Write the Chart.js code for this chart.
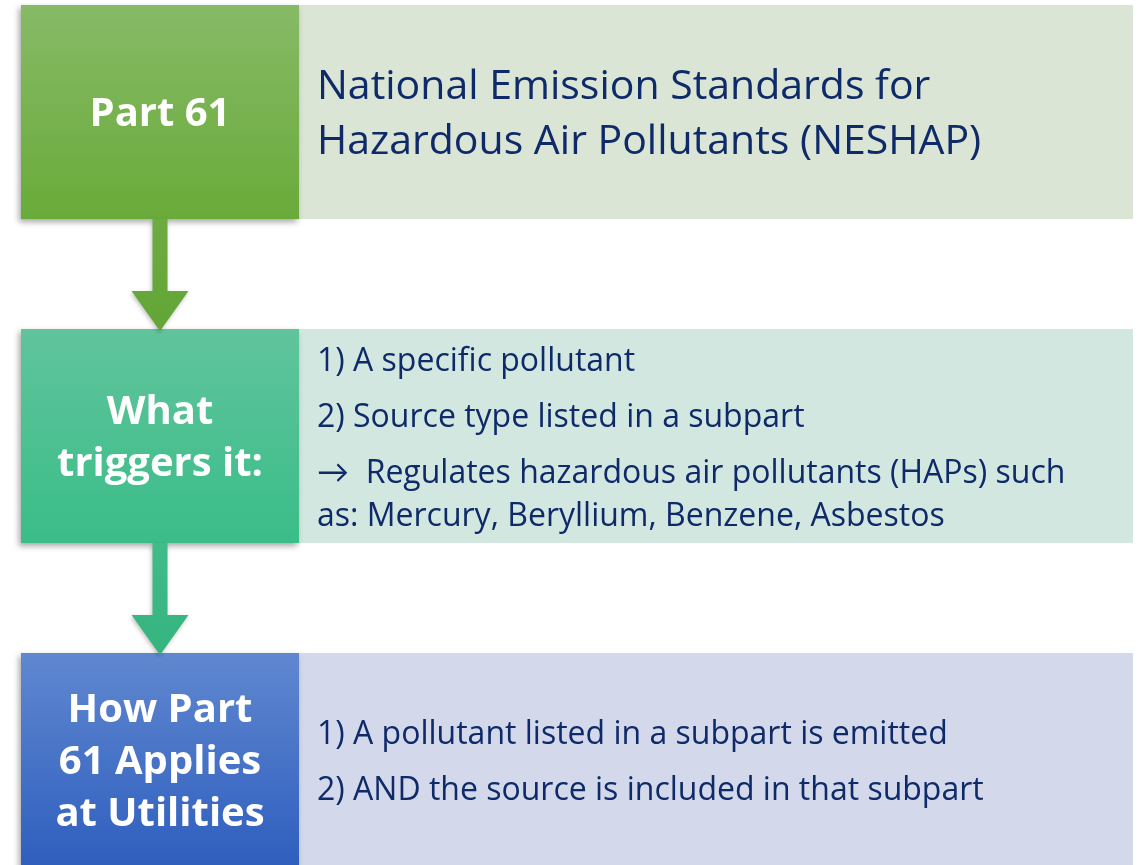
<!DOCTYPE html>
<html>
<head>
<meta charset="utf-8">
<script src="https://cdn.jsdelivr.net/npm/chart.js@4"></script>
<style>
  html, body { margin: 0; padding: 0; background: #fff; overflow: hidden; }
  #wrap { position: absolute; left: 0; top: -50px; width: 1142px; height: 972px; }
</style>
</head>
<body>
<div id="wrap"><canvas id="flujo" width="1142" height="972"></canvas></div>
<script>
// Pasos del diagrama (etiqueta de la caja de color, en líneas).
const pasos = [
  ["Part 61"],
  ["What", "triggers it:"],
  ["How Part", "61 Applies", "at Utilities"]
];

// Texto de la caja clara: párrafos, cada uno con sus líneas.
const detalles = [
  [["National Emission Standards for", "Hazardous Air Pollutants (NESHAP)"]],
  [["1) A specific pollutant"],
   ["2) Source type listed in a subpart"],
   ["\u2192  Regulates hazardous air pollutants (HAPs) such", "as: Mercury, Beryllium, Benzene, Asbestos"]],
  [["1) A pollutant listed in a subpart is emitted"],
   ["2) AND the source is included in that subpart"]]
];

// Colores (gradiente arriba/abajo) por paso.
const colorCaja = [["#87ba66", "#69ab3a"], ["#60c49c", "#3abd88"], ["#6088d0", "#2e5ebe"]];
const colorClaro = ["#dae5d5", "#d3e7e1", "#d3d9eb"];
const colorFlecha = [["#6eab42", "#62a535"], ["#41bb8b", "#35b47f"]];
const AZUL_TEXTO = "#0f2a68";

// Columnas (en unidades del eje x, 0..1142).
const COL_IZQ = [21, 299];
const COL_DER = [299, 1133];
const FUENTE = "'Open Sans', Lato, sans-serif";

function gradiente(c, par) {
  const { chart } = c;
  if (!chart.chartArea) return par[1];
  const y = chart.scales.y;
  const centro = y.getPixelForValue(c.dataIndex);
  const mitad = y.height / pasos.length * 0.66 / 2;
  const g = chart.ctx.createLinearGradient(0, centro - mitad, 0, centro + mitad);
  g.addColorStop(0, par[0]);
  g.addColorStop(1, par[1]);
  return g;
}

function altoMayus(ctx) {
  return ctx.measureText("H").actualBoundingBoxAscent;
}

const sombraCajas = {
  id: "sombraCajas",
  beforeDatasetDraw(chart, args) {
    if (args.index !== 0) return;
    const ctx = chart.ctx;
    ctx.save();
    ctx.shadowColor = "rgba(0,0,0,0.35)";
    ctx.shadowBlur = 6;
    ctx.shadowOffsetX = -2;
    ctx.shadowOffsetY = 3;
  },
  afterDatasetDraw(chart, args) {
    if (args.index !== 0) return;
    chart.ctx.restore();
  }
};

const flechasYTexto = {
  id: "flechasYTexto",
  afterDatasetsDraw(chart) {
    const { ctx, scales } = chart;
    const x = scales.x, y = scales.y;
    const mitad = y.height / pasos.length * 0.66 / 2;
    const cx = x.getPixelForValue((COL_IZQ[0] + COL_IZQ[1]) / 2);

    // Flechas entre cajas
    for (let i = 0; i < pasos.length - 1; i++) {
      const y0 = y.getPixelForValue(i) + mitad;
      const punta = y.getPixelForValue(i + 1) - mitad + 2;
      const base = punta - 40;
      const g = ctx.createLinearGradient(0, y0, 0, punta);
      g.addColorStop(0, colorFlecha[i][0]);
      g.addColorStop(1, colorFlecha[i][1]);
      ctx.save();
      ctx.shadowColor = "rgba(0,0,0,0.25)";
      ctx.shadowBlur = 4;
      ctx.shadowOffsetX = -1;
      ctx.shadowOffsetY = 2;
      ctx.fillStyle = g;
      ctx.beginPath();
      ctx.moveTo(cx - 7.5, y0);
      ctx.lineTo(cx + 7.5, y0);
      ctx.lineTo(cx + 7.5, base);
      ctx.lineTo(cx + 28.5, base);
      ctx.lineTo(cx, punta);
      ctx.lineTo(cx - 28.5, base);
      ctx.lineTo(cx - 7.5, base);
      ctx.closePath();
      ctx.fill();
      ctx.restore();
    }

    // Etiquetas en blanco
    ctx.save();
    ctx.fillStyle = "#ffffff";
    ctx.font = "bold 40px " + FUENTE;
    ctx.textBaseline = "alphabetic";
    ctx.textAlign = "center";
    const capE = altoMayus(ctx);
    pasos.forEach((lineas, i) => {
      const c = y.getPixelForValue(i);
      const alto = capE + (lineas.length - 1) * 52;
      let by = c - alto / 2 + capE;
      lineas.forEach(l => { ctx.fillText(l, cx, by); by += 52; });
    });
    ctx.restore();

    // Texto de detalle
    ctx.save();
    ctx.fillStyle = AZUL_TEXTO;
    ctx.textBaseline = "alphabetic";
    ctx.textAlign = "left";
    const x0 = x.getPixelForValue(COL_DER[0]) + 18;
    detalles.forEach((parrafos, i) => {
      const tam = i === 0 ? 41 : 32;
      ctx.font = tam + "px " + FUENTE;
      const cap = altoMayus(ctx);
      const lh = i === 0 ? 55 : 43;
      const ph = i === 0 ? 55 : 56;
      let alto = cap;
      parrafos.forEach((p, k) => { alto += (p.length - 1) * lh + (k > 0 ? ph : 0); });
      const c = y.getPixelForValue(i);
      let by = c - alto / 2 + cap;
      parrafos.forEach((p, k) => {
        if (k > 0) by += ph;
        p.forEach((l, j) => {
          if (j > 0) by += lh;
          ctx.fillText(l, x0, by);
        });
      });
    });
    ctx.restore();
  }
};

new Chart(document.getElementById("flujo"), {
  type: "bar",
  data: {
    labels: pasos.map(p => p.join(" ")),
    datasets: [
      {
        label: "Paso",
        data: pasos.map(() => COL_IZQ),
        backgroundColor: c => gradiente(c, colorCaja[c.dataIndex] || colorCaja[0]),
        grouped: false,
        order: 0
      },
      {
        label: "Detalle",
        data: pasos.map(() => COL_DER),
        backgroundColor: colorClaro,
        grouped: false,
        order: 1
      }
    ]
  },
  options: {
    indexAxis: "y",
    responsive: false,
    animation: false,
    events: [],
    barPercentage: 0.66,
    categoryPercentage: 1,
    layout: { padding: 0 },
    plugins: { legend: { display: false }, tooltip: { enabled: false } },
    scales: {
      x: { type: "linear", min: 0, max: 1142, display: false },
      y: { display: false, offset: true }
    }
  },
  plugins: [sombraCajas, flechasYTexto]
});
</script>
</body>
</html>
